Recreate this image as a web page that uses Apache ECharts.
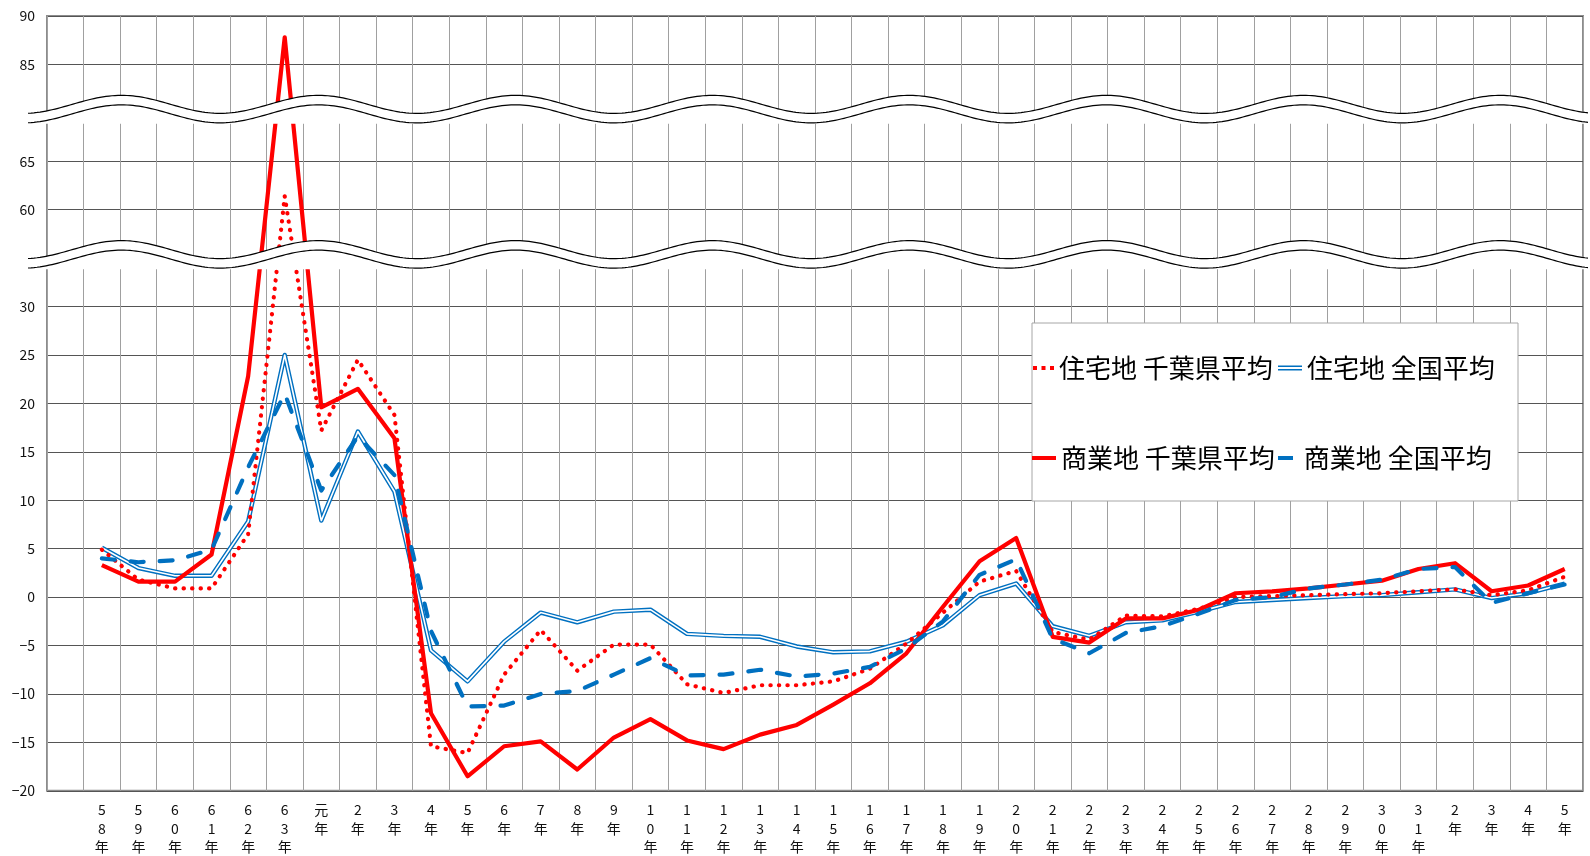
<!DOCTYPE html>
<html>
<head>
<meta charset="utf-8">
<script src="https://cdn.jsdelivr.net/npm/echarts@6/dist/echarts.min.js"></script>
<style>
  html, body { margin: 0; padding: 0; background: #fff; }
  #chart { width: 1590px; height: 856px; }
</style>
</head>
<body>
<div id="chart"></div>
<script>
// first band of the axis is left empty in the original
const categories = ['', '58年', '59年', '60年', '61年', '62年', '63年', '元年', '2年', '3年', '4年',
  '5年', '6年', '7年', '8年', '9年', '10年', '11年', '12年', '13年', '14年', '15年', '16年', '17年',
  '18年', '19年', '20年', '21年', '22年', '23年', '24年', '25年', '26年', '27年', '28年', '29年',
  '30年', '31年', '2年', '3年', '4年', '5年'];

// 住宅地 千葉県平均
const resChiba = [null, 4.9, 1.8, 0.9, 0.9, 6.5, 61.4, 17.2, 24.5, 18.8, -15.4, -16.1, -8.0, -3.4, -7.6,
  -4.9, -4.9, -9.0, -9.9, -9.1, -9.1, -8.7, -7.4, -4.8, -1.6, 1.6, 2.7, -3.6, -4.4, -1.9, -2.0, -1.2,
  0.0, 0.1, 0.2, 0.3, 0.4, 0.6, 0.8, 0.2, 0.7, 2.1];
// 住宅地 全国平均
const resNation = [null, 5.1, 3.0, 2.2, 2.2, 7.8, 25.0, 7.9, 17.1, 10.9, -5.5, -8.7, -4.6, -1.6, -2.6,
  -1.5, -1.3, -3.8, -4.0, -4.1, -5.1, -5.7, -5.6, -4.6, -2.9, 0.2, 1.4, -3.0, -4.0, -2.6, -2.4, -1.5,
  -0.5, -0.3, -0.1, 0.1, 0.2, 0.5, 0.8, -0.1, 0.4, 1.4];
// 商業地 千葉県平均
const comChiba = [null, 3.3, 1.6, 1.6, 4.4, 22.8, 87.8, 19.6, 21.5, 16.4, -12.0, -18.5, -15.4, -14.9, -17.8,
  -14.5, -12.6, -14.8, -15.7, -14.2, -13.2, -11.1, -8.9, -5.8, -1.0, 3.7, 6.1, -4.1, -4.7, -2.2, -2.2, -1.3,
  0.4, 0.6, 0.9, 1.3, 1.7, 2.9, 3.5, 0.6, 1.2, 2.9];
// 商業地 全国平均
const comNation = [null, 4.0, 3.6, 3.8, 4.9, 13.4, 21.0, 11.0, 16.6, 12.6, -3.5, -11.3, -11.2, -10.0, -9.7,
  -8.0, -6.3, -8.1, -8.0, -7.5, -8.2, -7.9, -7.2, -5.3, -2.5, 2.3, 3.9, -4.3, -5.8, -3.7, -3.0, -1.7,
  -0.3, 0.0, 0.9, 1.3, 1.8, 2.9, 3.1, -0.6, 0.4, 1.3];

// tick labels of the folded axis, from bottom to top in steps of 5 (blank inside the breaks)
const yTickLabels = ['−20', '−15', '−10', '−5', '0', '5', '10', '15', '20', '25', '30', '',
  '60', '65', '', '85', '90'];

// the axis is folded twice: the range between 30 and 60, and between 65 and 85 are cut out
function fold(v) {
  if (v == null) return null;
  if (v >= 75) return v - 30;
  if (v >= 45) return v - 20;
  return v;
}

const FONT = '"Noto Sans CJK JP", "Noto Sans", sans-serif';
const RED = '#ff0000';
const BLUE = '#0070c0';

const chart = echarts.init(document.getElementById('chart'), null, { renderer: 'canvas' });

const legendBase = {
  orient: 'horizontal',
  padding: 0,
  selectedMode: false,
  textStyle: { fontSize: 26, color: '#000', fontFamily: FONT },
  itemStyle: { borderWidth: 0 }
};

chart.setOption({
  animation: false,
  backgroundColor: '#fff',
  grid: { left: 47, right: 7, top: 16, bottom: 63, show: true, borderColor: '#8c8c8c', borderWidth: 2 },
  xAxis: {
    type: 'category',
    data: categories,
    boundaryGap: true,
    axisLine: { show: false },
    axisTick: { show: false },
    splitLine: { show: true, interval: 0, lineStyle: { color: '#a0a0a0', width: 1 } },
    axisLabel: {
      interval: 0,
      margin: 10,
      fontSize: 14,
      lineHeight: 18.4,
      color: '#111',
      fontFamily: FONT,
      formatter: v => v.split('').join('\n')
    }
  },
  yAxis: {
    type: 'value',
    min: -20,
    max: 60,
    interval: 5,
    axisLine: { show: false },
    axisTick: { show: false },
    splitLine: { show: true, lineStyle: { color: '#555', width: 1 } },
    axisLabel: {
      margin: 12,
      fontSize: 14,
      color: '#111',
      fontFamily: FONT,
      formatter: v => yTickLabels[Math.round((v + 20) / 5)] || ''
    }
  },
  legend: [
    Object.assign({}, legendBase, {
      left: 1033, top: 355, itemWidth: 21, itemHeight: 4,
      data: [{ name: '住宅地 千葉県平均', icon: 'path://M0,0h4v4h-4z M8.5,0h4v4h-4z M17,0h4v4h-4z' }]
    }),
    Object.assign({}, legendBase, {
      left: 1278, top: 355, itemWidth: 24, itemHeight: 5,
      data: [{ name: '住宅地 全国平均', icon: 'path://M0,0H24V5H0Z M0,1.5V3.5H24V1.5Z' }]
    }),
    Object.assign({}, legendBase, {
      left: 1032, top: 445, itemWidth: 24, itemHeight: 4,
      data: [{ name: '商業地 千葉県平均', icon: 'rect' }]
    }),
    Object.assign({}, legendBase, {
      left: 1278, top: 445, itemWidth: 15, itemHeight: 4,
      formatter: n => ' ' + n,
      data: [{ name: '商業地 全国平均', icon: 'rect' }]
    })
  ],
  series: [
    {
      name: '住宅地 全国平均', type: 'line', data: resNation.map(fold),
      symbol: 'none', color: BLUE,
      lineStyle: { color: BLUE, width: 4.4, join: 'round' }
    },
    {
      name: '住宅地 全国平均 inner', type: 'line', data: resNation.map(fold),
      symbol: 'none', color: '#fff',
      lineStyle: { color: '#fff', width: 1.6, join: 'round' }
    },
    {
      name: '住宅地 千葉県平均', type: 'line', data: resChiba.map(fold),
      symbol: 'none', color: RED,
      lineStyle: { color: RED, width: 4.2, type: [0.3, 8.2], cap: 'round', join: 'round' }
    },
    {
      name: '商業地 千葉県平均', type: 'line', data: comChiba.map(fold),
      symbol: 'none', color: RED,
      lineStyle: { color: RED, width: 4.2, join: 'round' }
    },
    {
      name: '商業地 全国平均', type: 'line', data: comNation.map(fold),
      symbol: 'none', color: BLUE,
      lineStyle: { color: BLUE, width: 4.2, type: [13, 16], cap: 'round', join: 'round' }
    }
  ]
});

// wavy break bands drawn over the plot at the two cut-out places
function breakBand(g) {
  const up = [];
  const low = [];
  for (let x = 28; x <= 1590; x += 3) {
    const y = g - 8.5 + 9 * Math.cos(2 * Math.PI * (x - 220) / 197);
    up.push([x, y]);
    low.push([x, y + 9.5]);
  }
  const fill = up.concat([[1590, g + 11], [28, g + 11]]);
  return [
    { type: 'polygon', z: 50, shape: { points: fill }, style: { fill: '#fff', stroke: null } },
    { type: 'polyline', z: 51, shape: { points: up }, style: { stroke: '#000', lineWidth: 1.2, fill: null } },
    { type: 'polyline', z: 51, shape: { points: low }, style: { stroke: '#000', lineWidth: 1.2, fill: null } }
  ];
}

const gTop = chart.convertToPixel({ yAxisIndex: 0 }, 50);
const gMid = chart.convertToPixel({ yAxisIndex: 0 }, 35);

chart.setOption({
  graphic: [
    { type: 'rect', z: 3, shape: { x: 1032, y: 323, width: 486, height: 178 },
      style: { fill: '#fff', stroke: '#a6a6a6', lineWidth: 1 } }
  ].concat(breakBand(gTop), breakBand(gMid))
});
</script>
</body>
</html>
